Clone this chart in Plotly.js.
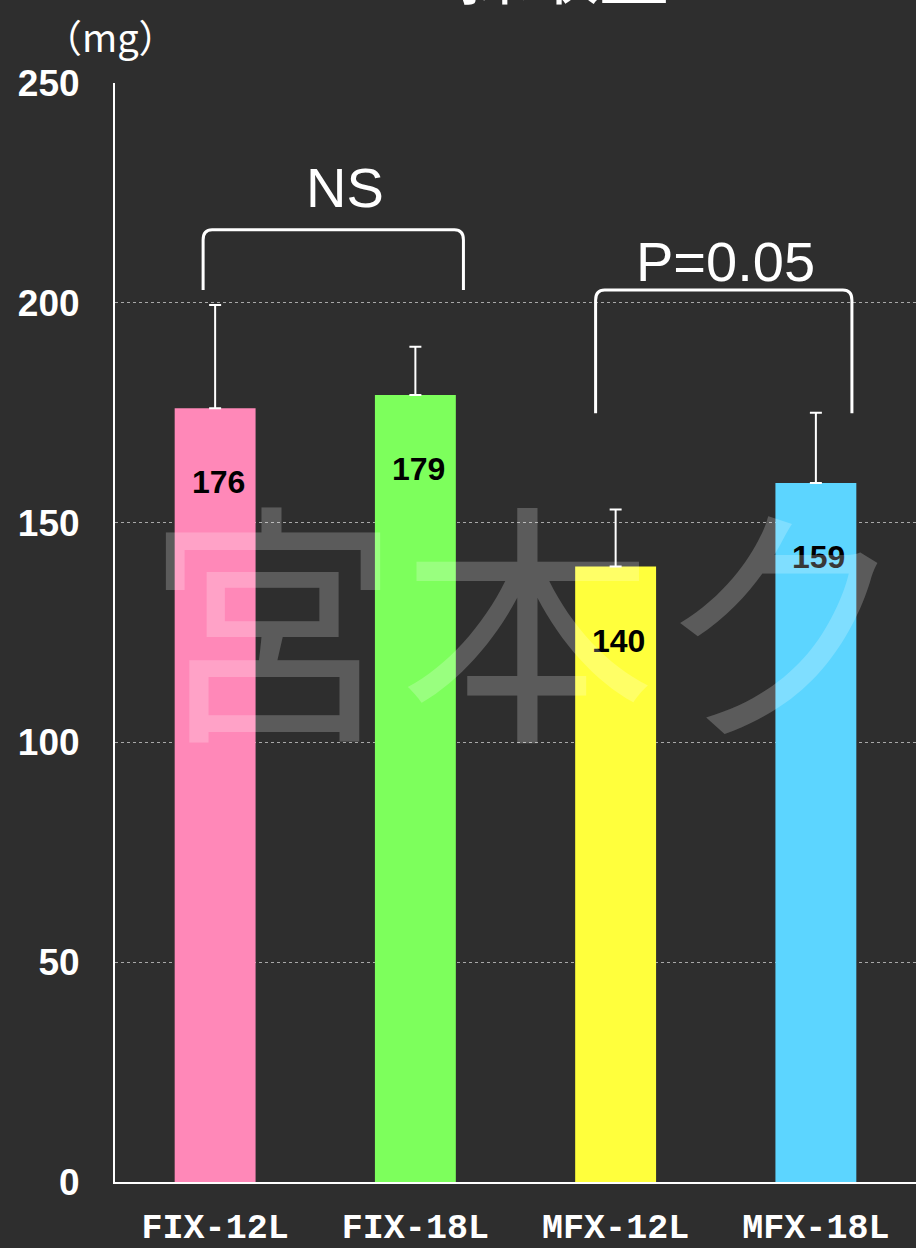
<!DOCTYPE html>
<html>
<head>
<meta charset="utf-8">
<script src="https://cdn.plot.ly/plotly-3.0.1.min.js"></script>
<style>
html,body{margin:0;padding:0;background:#2e2e2e;overflow:hidden;}
#chart{width:916px;height:1248px;}
</style>
</head>
<body>
<div id="chart"></div>
<script>
// ---- data ----
const categories = ["FIX-12L", "FIX-18L", "MFX-12L", "MFX-18L"];
const values = [176, 179, 140, 159];
const errorsUp = [23.5, 11, 13, 16];
const barColors = ["#ff88b8", "#7dff5c", "#ffff3c", "#5cd5ff"];
const yTickVals = [0, 50, 100, 150, 200, 250];

// significance brackets (data coordinates)
const bracketLabels = ["NS", "P=0.05"];
const bracketX0 = [-0.06, 1.90];
const bracketX1 = [1.24, 3.18];
const bracketTop = [216.6, 202.9];
const bracketLeg = [202.9, 174.9];
const bracketLabelX = [0.65, 2.55];
const bracketLabelY = [226.3, 209.5];

const unitLabel = "（mg）";
const titleText = "採取量";
const watermarkText = "宮本クリニック";

// ---- build ----
const xIdx = categories.map((c, i) => i);

const trace = {
  type: "bar",
  x: xIdx,
  y: values,
  marker: {color: barColors, line: {width: 0}},
  width: 0.404,
  error_y: {
    type: "data",
    symmetric: false,
    array: errorsUp,
    arrayminus: values.map(() => 0),
    color: "#ffffff",
    thickness: 2,
    width: 6
  },
  hoverinfo: "skip"
};

const shapes = bracketLabels.map((_, i) => {
  const x0 = bracketX0[i], x1 = bracketX1[i], yt = bracketTop[i], yl = bracketLeg[i];
  const dx = 0.045, dy = 2.3;
  return {
    type: "path",
    xref: "x", yref: "y",
    path: `M ${x0},${yl} L ${x0},${yt - dy} Q ${x0},${yt} ${x0 + dx},${yt} L ${x1 - dx},${yt} Q ${x1},${yt} ${x1},${yt - dy} L ${x1},${yl}`,
    line: {color: "#ffffff", width: 3},
    layer: "above"
  };
});

const annotations = [];
// value labels in bars
values.forEach((v, i) => {
  annotations.push({
    x: i, y: v, xref: "x", yref: "y",
    text: String(v),
    showarrow: false,
    yshift: -74, xshift: 3,
    font: {family: "Liberation Sans Narrow, Liberation Sans, Arial, sans-serif", size: 32, color: "#000000", weight: "bold"}
  });
});
// bracket labels
bracketLabels.forEach((t, i) => {
  annotations.push({
    x: bracketLabelX[i], y: bracketLabelY[i], xref: "x", yref: "y",
    text: t, showarrow: false,
    font: {family: "Liberation Sans, Arial, sans-serif", size: 56, color: "#ffffff"}
  });
});
// unit label
annotations.push({
  xref: "paper", yref: "paper",
  x: -0.005, y: 1.043, xanchor: "center", yanchor: "middle",
  text: unitLabel, showarrow: false,
  font: {family: "Noto Sans CJK JP, sans-serif", size: 38, color: "#ffffff"}
});
// cut-off title at the top
annotations.push({
  xref: "paper", yref: "paper",
  x: 0.56, y: 1.056, xanchor: "center", yanchor: "bottom",
  text: titleText, showarrow: false,
  font: {family: "Noto Sans CJK JP, sans-serif", size: 70, color: "#ffffff"}
});
// watermark
annotations.push({
  xref: "paper", yref: "paper",
  x: 0.035, y: 0.52, xanchor: "left", yanchor: "middle",
  text: watermarkText, showarrow: false,
  font: {family: "Noto Sans CJK JP, sans-serif", size: 255, color: "rgba(255,255,255,0.22)"}
});

const layout = {
  width: 916,
  height: 1248,
  margin: {l: 115, r: 0, t: 83, b: 66, pad: 0},
  paper_bgcolor: "#2e2e2e",
  plot_bgcolor: "rgba(0,0,0,0)",
  showlegend: false,
  xaxis: {
    range: [-0.5, 3.5],
    tickvals: xIdx,
    ticktext: categories,
    showgrid: false,
    zeroline: false,
    showline: true,
    linecolor: "#ffffff",
    linewidth: 2,
    ticks: "",
    ticklabelstandoff: 12,
    tickfont: {family: "Liberation Mono, DejaVu Sans Mono, monospace", size: 35, color: "#ffffff", weight: "bold"},
    fixedrange: true
  },
  yaxis: {
    range: [0, 250],
    tickvals: yTickVals,
    showgrid: true,
    gridcolor: "#a8a8a8",
    griddash: "dot",
    gridwidth: 1,
    zeroline: false,
    showline: true,
    linecolor: "#ffffff",
    linewidth: 2,
    ticks: "",
    ticklabelstandoff: 26,
    tickfont: {family: "Liberation Sans, Arial, sans-serif", size: 37, color: "#ffffff", weight: "bold"},
    fixedrange: true
  },
  shapes: shapes,
  annotations: annotations
};

Plotly.newPlot("chart", [trace], layout, {displayModeBar: false, staticPlot: true});
</script>
</body>
</html>
